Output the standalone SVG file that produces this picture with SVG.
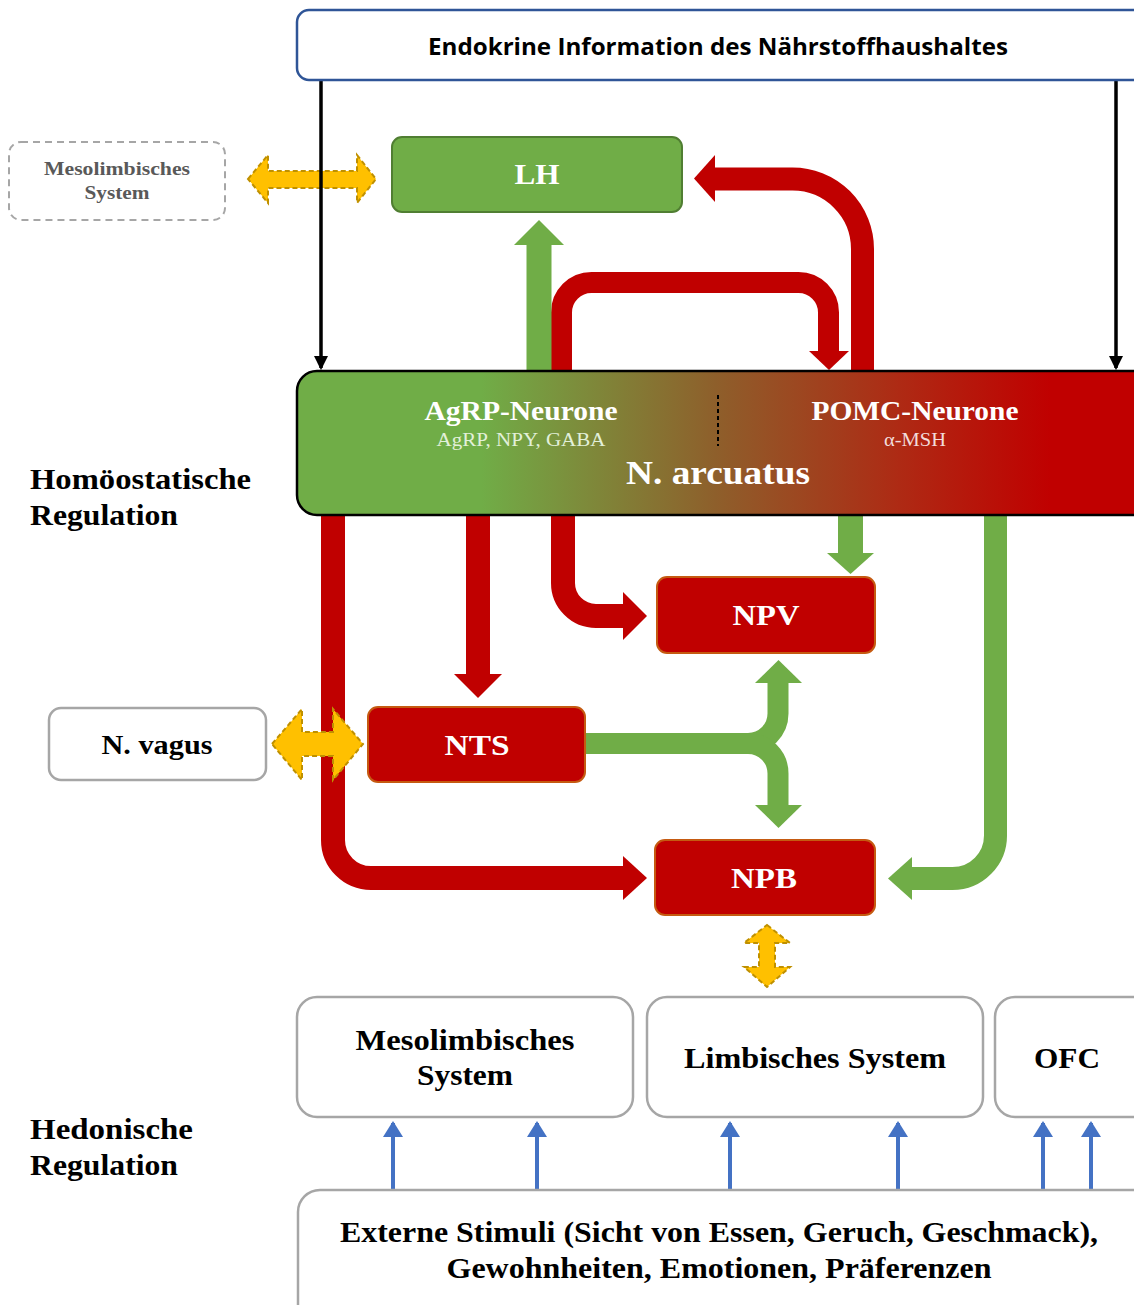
<svg xmlns="http://www.w3.org/2000/svg" width="1134" height="1305" viewBox="0 0 1134 1305">
<style>
.serif{font-family:"Liberation Serif","Times New Roman",serif;font-weight:bold;text-anchor:middle}
.st{text-anchor:start}
.w{fill:#ffffff}
.k{fill:#000000}
.red{fill:#C00000;stroke:#C55A11;stroke-width:2}
.gbox{fill:#ffffff;stroke:#A6A6A6;stroke-width:2.5}
.rs{fill:none;stroke:#C00000}
.gs{fill:none;stroke:#70AD47}
.rh{fill:#C00000}
.gh{fill:#70AD47}
.yel{fill:#FFC000;stroke:#BF9000;stroke-width:2;stroke-dasharray:5 3}
.blue{stroke:#4472C4;stroke-width:4}
</style>
<defs>
<linearGradient id="arcGrad" gradientUnits="userSpaceOnUse" x1="297" y1="0" x2="1134" y2="0">
<stop offset="0" stop-color="#70AD47"/>
<stop offset="0.22" stop-color="#70AD47"/>
<stop offset="0.5" stop-color="#8E5F2B"/>
<stop offset="0.72" stop-color="#AE2A14"/>
<stop offset="0.9" stop-color="#C00000"/>
<stop offset="1" stop-color="#C00000"/>
</linearGradient>
<marker id="blk" markerWidth="4" markerHeight="4" refX="3.4" refY="2" orient="auto" markerUnits="strokeWidth">
<path d="M0,0 L4,2 L0,4 z" fill="#000"/>
</marker>
<marker id="blu" markerWidth="4" markerHeight="5" refX="3.5" refY="2.5" orient="auto" markerUnits="strokeWidth">
<path d="M0,0 L4,2.5 L0,5 z" fill="#4472C4"/>
</marker>
</defs>
<rect width="1134" height="1305" fill="#ffffff"/>

<g id="labels">
<text class="serif k st" x="30" y="489" font-size="29" textLength="221" lengthAdjust="spacingAndGlyphs">Homöostatische</text>
<text class="serif k st" x="30" y="525" font-size="29" textLength="148" lengthAdjust="spacingAndGlyphs">Regulation</text>
<text class="serif k st" x="30" y="1139" font-size="29" textLength="163" lengthAdjust="spacingAndGlyphs">Hedonische</text>
<text class="serif k st" x="30" y="1175" font-size="29" textLength="148" lengthAdjust="spacingAndGlyphs">Regulation</text>
</g>

<g id="connectors">
<polygon class="yel" points="248,179 268,155 268,171 357,171 357,155 376,179 357,203 357,188 268,188 268,203"/>
<line x1="321" y1="80" x2="321" y2="368" stroke="#000" stroke-width="3.5" marker-end="url(#blk)"/>
<line x1="1116" y1="80" x2="1116" y2="368" stroke="#000" stroke-width="3.5" marker-end="url(#blk)"/>
<path class="rs" stroke-width="23" d="M862.5,371 V249 A70,70 0 0 0 792.5,179 H714"/>
<polygon class="rh" points="715,155 694,178.5 715,202"/>
<path class="rs" stroke-width="21" d="M561.5,371 V312.5 A30,30 0 0 1 591.5,282.5 H798.5 A30,30 0 0 1 828.5,312.5 V352"/>
<polygon class="rh" points="809,351 849,351 829,370"/>
<path class="gs" stroke-width="25" d="M539,371 V244"/>
<polygon class="gh" points="514,245 564,245 539,220"/>
<path class="rs" stroke-width="24" d="M478,515 V675"/>
<polygon class="rh" points="454,674 502,674 478,698"/>
<path class="rs" stroke-width="24" d="M563,515 V583 A33,33 0 0 0 596,616 H624"/>
<polygon class="rh" points="623,592 647,616 623,640"/>
<path class="rs" stroke-width="24" d="M333,515 V840 A38,38 0 0 0 371,878 H624"/>
<polygon class="rh" points="623,856 647,878 623,900"/>
<path class="gs" stroke-width="25" d="M850.5,515 V554"/>
<polygon class="gh" points="827,553 874,553 850.5,574"/>
<path class="gs" stroke-width="23" d="M995.5,515 V835 A43,43 0 0 1 952.5,878.5 H911"/>
<polygon class="gh" points="912,857 888,878.5 912,900"/>
<path class="gs" stroke-width="21" d="M585,743.5 H748 A30,30 0 0 0 778,713.5 V682"/>
<polygon class="gh" points="755,683 802,683 778.5,660"/>
<path class="gs" stroke-width="21" d="M585,743.5 H748 A30,30 0 0 1 778,773.5 V806"/>
<polygon class="gh" points="755,805 802,805 778.5,828"/>
<polygon class="yel" points="272,744 302,709 302,732 333,732 333,709 363,744 333,780 333,756 302,756 302,780"/>
<polygon class="yel" points="767,925 790,943 775,943 775,967 790,967 767,987 744,967 759,967 759,943 744,943"/>
<line class="blue" x1="393" y1="1190" x2="393" y2="1123" marker-end="url(#blu)"/>
<line class="blue" x1="537" y1="1190" x2="537" y2="1123" marker-end="url(#blu)"/>
<line class="blue" x1="730" y1="1190" x2="730" y2="1123" marker-end="url(#blu)"/>
<line class="blue" x1="898" y1="1190" x2="898" y2="1123" marker-end="url(#blu)"/>
<line class="blue" x1="1043" y1="1190" x2="1043" y2="1123" marker-end="url(#blu)"/>
<line class="blue" x1="1091" y1="1190" x2="1091" y2="1123" marker-end="url(#blu)"/>
</g>

<g id="node-endokrin">
<rect x="297" y="10" width="850" height="70" rx="12" fill="#fff" stroke="#2F5597" stroke-width="2.5"/>
<text x="718" y="55" font-family="'Open Sans','Liberation Sans',sans-serif" font-weight="bold" font-size="23" text-anchor="middle" textLength="580" lengthAdjust="spacingAndGlyphs" fill="#000">Endokrine Information des Nährstoffhaushaltes</text>
</g>

<g id="node-mesolimbisch-top">
<rect x="9" y="142" width="216" height="78" rx="12" fill="#fff" stroke="#A6A6A6" stroke-width="2" stroke-dasharray="7 5"/>
<text class="serif" x="117" y="175" font-size="19" fill="#595959" textLength="146" lengthAdjust="spacingAndGlyphs">Mesolimbisches</text>
<text class="serif" x="117" y="199" font-size="19" fill="#595959" textLength="65" lengthAdjust="spacingAndGlyphs">System</text>
</g>

<g id="node-lh">
<rect x="392" y="137" width="290" height="75" rx="10" fill="#70AD47" stroke="#507E32" stroke-width="2"/>
<text class="serif w" x="537" y="184" font-size="29" textLength="45" lengthAdjust="spacingAndGlyphs">LH</text>
</g>

<g id="node-arcuatus">
<rect x="297" y="371" width="860" height="144" rx="20" fill="url(#arcGrad)" stroke="#000" stroke-width="2.5"/>
<line x1="718" y1="395" x2="718" y2="446" stroke="#000" stroke-width="2" stroke-dasharray="4 3"/>
<text class="serif w" x="521" y="420" font-size="27" textLength="193" lengthAdjust="spacingAndGlyphs">AgRP-Neurone</text>
<text x="521" y="446" font-family="'Liberation Serif',serif" font-size="18" text-anchor="middle" fill="#E2F0D9" textLength="169" lengthAdjust="spacingAndGlyphs">AgRP, NPY, GABA</text>
<text class="serif w" x="915" y="420" font-size="27" textLength="207" lengthAdjust="spacingAndGlyphs">POMC-Neurone</text>
<text x="915" y="446" font-family="'Liberation Serif',serif" font-size="18" text-anchor="middle" fill="#F2DCDB" textLength="62" lengthAdjust="spacingAndGlyphs">α-MSH</text>
<text class="serif w" x="718" y="484" font-size="33" textLength="184" lengthAdjust="spacingAndGlyphs">N. arcuatus</text>
</g>

<g id="node-npv">
<rect class="red" x="657" y="577" width="218" height="76" rx="10"/>
<text class="serif w" x="766" y="625" font-size="29" textLength="67" lengthAdjust="spacingAndGlyphs">NPV</text>
</g>

<g id="node-nts">
<rect class="red" x="368" y="707" width="217" height="75" rx="10"/>
<text class="serif w" x="477" y="755" font-size="29" textLength="65" lengthAdjust="spacingAndGlyphs">NTS</text>
</g>

<g id="node-npb">
<rect class="red" x="655" y="840" width="220" height="75" rx="10"/>
<text class="serif w" x="764" y="888" font-size="29" textLength="66" lengthAdjust="spacingAndGlyphs">NPB</text>
</g>

<g id="node-vagus">
<rect class="gbox" x="49" y="708" width="217" height="72" rx="12"/>
<text class="serif k" x="157" y="754" font-size="27" textLength="111" lengthAdjust="spacingAndGlyphs">N. vagus</text>
</g>

<g id="node-mesolimbisch">
<rect class="gbox" x="297" y="997" width="336" height="120" rx="20"/>
<text class="serif k" x="465" y="1050" font-size="29" textLength="219" lengthAdjust="spacingAndGlyphs">Mesolimbisches</text>
<text class="serif k" x="465" y="1085" font-size="29" textLength="96" lengthAdjust="spacingAndGlyphs">System</text>
</g>

<g id="node-limbisch">
<rect class="gbox" x="647" y="997" width="336" height="120" rx="20"/>
<text class="serif k" x="815" y="1068" font-size="29" textLength="262" lengthAdjust="spacingAndGlyphs">Limbisches System</text>
</g>

<g id="node-ofc">
<rect class="gbox" x="995" y="997" width="160" height="120" rx="20"/>
<text class="serif k" x="1067" y="1068" font-size="29" textLength="66" lengthAdjust="spacingAndGlyphs">OFC</text>
</g>

<g id="node-extern">
<rect class="gbox" x="298" y="1190" width="860" height="140" rx="22"/>
<text class="serif k" x="719" y="1242" font-size="29" textLength="758" lengthAdjust="spacingAndGlyphs">Externe Stimuli (Sicht von Essen, Geruch, Geschmack),</text>
<text class="serif k" x="719" y="1278" font-size="29" textLength="545" lengthAdjust="spacingAndGlyphs">Gewohnheiten, Emotionen, Präferenzen</text>
</g>
</svg>
